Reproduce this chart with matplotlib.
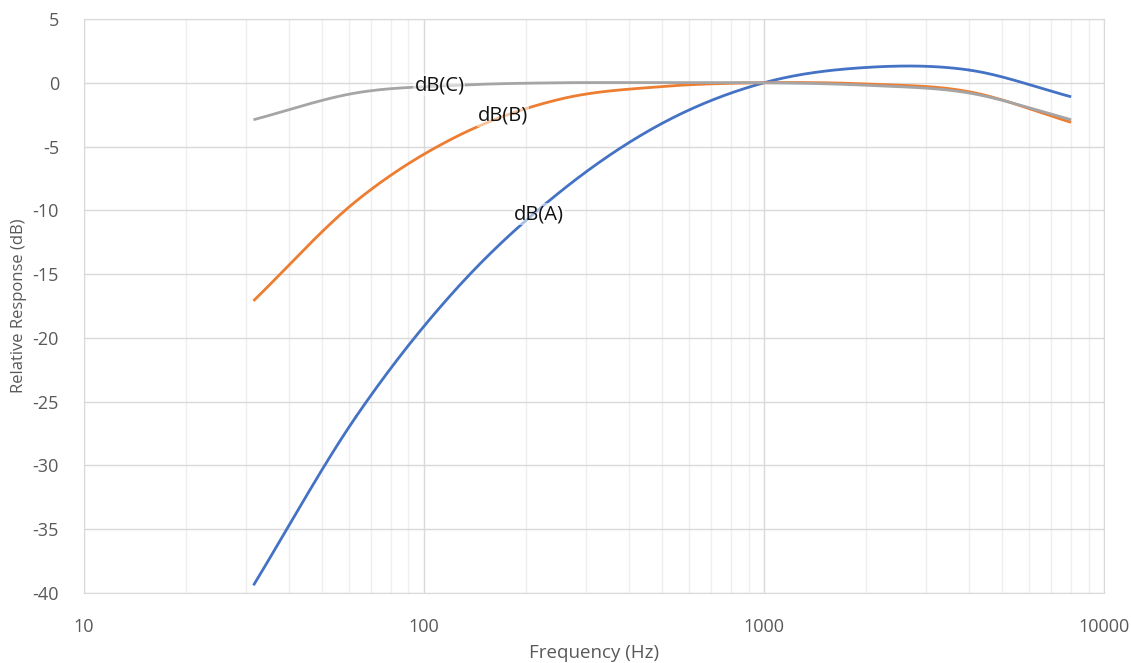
import numpy as np
import matplotlib
matplotlib.use("Agg")
import matplotlib.pyplot as plt
from matplotlib.ticker import LogLocator, FixedLocator, FixedFormatter, NullFormatter

plt.rcParams["axes.unicode_minus"] = False

# octave band centre frequencies (Hz) and weighting values (dB)
freqs = [31.5, 63, 125, 250, 500, 1000, 2000, 4000, 8000]
db_a = [-39.4, -26.2, -16.1, -8.6, -3.2, 0.0, 1.2, 1.0, -1.1]
db_b = [-17.1, -9.3, -4.2, -1.3, -0.3, 0.0, -0.1, -0.7, -3.1]
db_c = [-2.9, -0.8, -0.2, 0.0, 0.0, 0.0, -0.2, -0.8, -2.9]

series_names = ["dB(A)", "dB(B)", "dB(C)"]
series_colors = ["#4472C4", "#ED7D31", "#A5A5A5"]
# label anchor points (freq, dB)
label_pos = {"dB(A)": (218, -10.3), "dB(B)": (171, -2.6), "dB(C)": (111, -0.2)}

x_ticks = [10, 100, 1000, 10000]
y_ticks = list(range(-40, 6, 5))


def smooth(xs, ys, n=40):
    # Excel-style smoothed line: Catmull-Rom in log-x space (rendering only)
    lx = np.log10(xs)
    y = np.asarray(ys, float)
    px = np.concatenate([[2 * lx[0] - lx[1]], lx, [2 * lx[-1] - lx[-2]]])
    py = np.concatenate([[2 * y[0] - y[1]], y, [2 * y[-1] - y[-2]]])
    out_x, out_y = [], []
    t = np.linspace(0, 1, n)
    for i in range(1, len(px) - 2):
        for arr, out in ((px, out_x), (py, out_y)):
            p0, p1, p2, p3 = arr[i - 1], arr[i], arr[i + 1], arr[i + 2]
            out.extend(0.5 * ((2 * p1) + (-p0 + p2) * t
                              + (2 * p0 - 5 * p1 + 4 * p2 - p3) * t ** 2
                              + (-p0 + 3 * p1 - 3 * p2 + p3) * t ** 3))
    return 10 ** np.array(out_x), np.array(out_y)


fig = plt.figure(figsize=(11.31, 6.63), dpi=100)
ax = fig.add_axes([0.0743, 0.1056, 0.9019, 0.8658])

for name, vals, col in zip(series_names, [db_a, db_b, db_c], series_colors):
    sx, sy = smooth(freqs, vals)
    ax.plot(sx, sy, color=col, lw=2.0, solid_capstyle="butt", zorder=3)

for name in series_names:
    fx, fy = label_pos[name]
    ax.text(fx, fy, name, fontsize=14.5, family="Open Sans", color="#111111",
            ha="center", va="center", zorder=4,
            bbox=dict(boxstyle="square,pad=0.05", fc="white", ec="none", alpha=0.55))

ax.set_xscale("log")
ax.set_xlim(10, 10000)
ax.set_ylim(-40, 5)
ax.xaxis.set_major_locator(FixedLocator(x_ticks))
ax.xaxis.set_major_formatter(FixedFormatter([str(v) for v in x_ticks]))
ax.xaxis.set_minor_locator(LogLocator(base=10, subs=np.arange(2, 10)))
ax.xaxis.set_minor_formatter(NullFormatter())
ax.set_yticks(y_ticks)

ax.grid(which="major", color="#D9D9D9", lw=1.0, zorder=0)
ax.grid(which="minor", axis="x", color="#EFEFEF", lw=1.0, zorder=0)
ax.set_axisbelow(True)
for s in ax.spines.values():
    s.set_color("#D9D9D9")
ax.tick_params(which="both", length=0, colors="#595959", labelsize=13)
ax.tick_params(axis="x", pad=18)
ax.tick_params(axis="y", pad=18)
for lab in ax.get_xticklabels() + ax.get_yticklabels():
    lab.set_family("Open Sans")

ax.set_xlabel("Frequency (Hz)", fontsize=13.5, color="#595959", family="Open Sans", labelpad=6)
ax.set_ylabel("Relative Response (dB)", fontsize=12, color="#595959", family="Open Sans", labelpad=4)

fig.savefig("out.png", dpi=100)
